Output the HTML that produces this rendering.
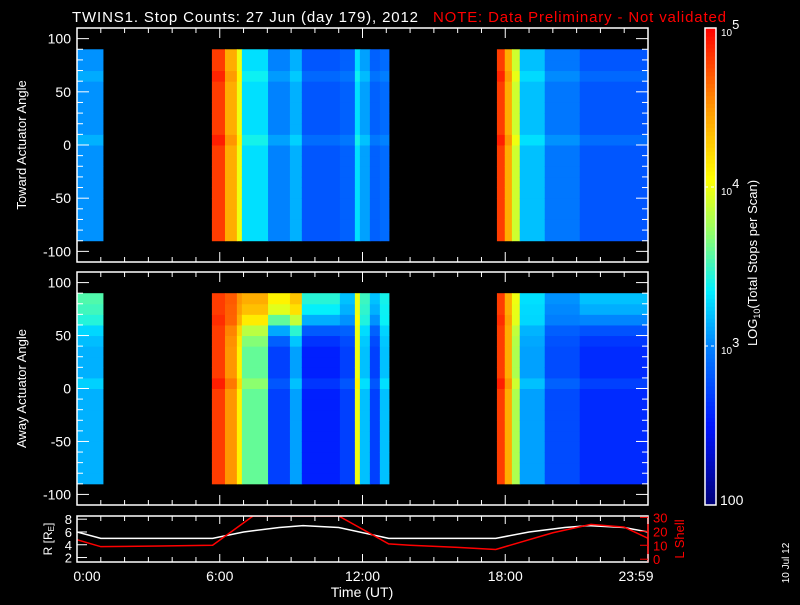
<!DOCTYPE html>
<html><head><meta charset="utf-8"><style>
body{margin:0;background:#000;}
svg text{font-family:"Liberation Sans",sans-serif;}
</style></head><body>
<svg id="chart" width="800" height="600" viewBox="0 0 800 600" xmlns="http://www.w3.org/2000/svg">
<rect width="800" height="600" fill="#000"/>
<g id="g"></g>
</svg>
<script>
const colStarts=[0,1.09,5.67,6.22,6.72,6.93,8.03,8.95,9.45,11.05,11.68,11.89,12.31,12.73,13.11,17.65,17.98,18.28,18.61,19.66,21.13,24];
const topVals=[3.05,null,4.8,4.4,4.0,3.3,3.0,3.15,2.8,2.85,3.3,3.1,2.85,2.9,null,4.8,4.4,3.9,3.2,2.95,2.8];
const botVals=[3.15,null,4.8,4.5,4.1,3.6,2.7,3.1,2.55,2.7,4.0,3.2,2.7,3.2,null,4.8,4.4,3.8,3.1,2.75,2.6];
const botBoost=[0.4,null,0,0.2,0.4,0.8,1.4,1.2,0.9,0.5,0,0.3,0.5,0.2,null,0,0,0.2,0.2,0.3,0.6];
const angBins=[-90,-80,-70,-60,-50,-40,-30,-20,-10,0,10,20,30,40,50,60,70,80,90];
const topAng=[0,0,0,0,0,0,0,0,0,0.1,0,0,0,0,0,0.08,0,0];
const botAng=[0,0,0,0,0,0,0,0,0,0.1,0,0,0,0,0,0.05,0,0];
const botRamp=[0,0,0,0,0,0,0,0,0,0,0,0,0,0.1,0.3,0.6,0.9,1];
const rHours=[0,1,5.7,7,8.5,9.5,11,13.1,17.6,19,20.5,21.5,23,24];
const rVals=[6,5,5,6,6.7,7,6.7,5,5,6,6.7,7,6.7,6];
const lHours=[0,1,3.5,5.7,7.4,11,13.1,14,16,17.6,20,21.6,23,24];
const lVals=[14,9,9.5,10,31,31,11,10,8.5,7,19,25,23,15];
const yTicks=[-100,-50,0,50,100];
const xTickLabels=["0:00","6:00","12:00","18:00","23:59"];
const xTickHours=[0,6,12,18,24];

const NS="http://www.w3.org/2000/svg";const G=document.getElementById('g');
function el(t,a,p){const e=document.createElementNS(NS,t);for(const k in a)e.setAttribute(k,a[k]);(p||G).appendChild(e);return e;}
const X0=77,X1=648;const xs=h=>X0+(X1-X0)*h/24;
const stops=[[2,[0,0,120]],[2.5,[0,20,255]],[3,[0,130,255]],[3.35,[0,240,255]],[3.7,[140,255,110]],[4.05,[255,255,0]],[4.5,[255,150,0]],[5,[255,0,0]]];
function cmap(v){v=Math.max(2,Math.min(5,v));for(let i=1;i<stops.length;i++){if(v<=stops[i][0]){const a=stops[i-1],b=stops[i],t=(v-a[0])/(b[0]-a[0]);return 'rgb('+a[1].map((c,j)=>Math.round(c+(b[1][j]-c)*t)).join(',')+')';}}return 'rgb(255,0,0)';}
const panels=[{y0:28,y1:262,vals:topVals,ang:topAng,boost:null,name:'toward-panel',title:'Toward Actuator Angle'},{y0:272,y1:505,vals:botVals,ang:botAng,boost:botBoost,name:'away-panel',title:'Away Actuator Angle'}];
panels.forEach(P=>{
  const ys=a=>P.y1-(a+110)*(P.y1-P.y0)/220;
  const g=el('g',{});
  
  
  for(let c=0;c<P.vals.length;c++){
    if(P.vals[c]===null)continue;
    for(let b=0;b<angBins.length-1;b++){
      let v=P.vals[c]+P.ang[b]+(P.boost?P.boost[c]*botRamp[b]:0);
      const r=el('rect',{x:xs(colStarts[c]),y:ys(angBins[b+1]),width:xs(colStarts[c+1])-xs(colStarts[c])+0.5,height:ys(angBins[b])-ys(angBins[b+1])+0.5,fill:cmap(v)},g);
      
      
    }
  }
  const fr=el('rect',{x:X0,y:P.y0,width:X1-X0,height:P.y1-P.y0,fill:'none',stroke:'#fff','stroke-width':1.5});
  
  
  for(let a=-110;a<=110;a+=10){const y=ys(a),len=(a%50===0)?12:6;el('line',{x1:X0,x2:X0+len,y1:y,y2:y,stroke:'#fff'});el('line',{x1:X1,x2:X1-len,y1:y,y2:y,stroke:'#fff'});}
  yTicks.forEach(a=>{const t=el('text',{x:X0-6,y:ys(a)+5,fill:'#fff','font-size':14,'text-anchor':'end'});t.textContent=a;
    
    });
  for(let h=0;h<=24;h++){const x=xs(h),len=(h%6===0)?10:5;el('line',{x1:x,x2:x,y1:P.y0,y2:P.y0+len,stroke:'#fff'});el('line',{x1:x,x2:x,y1:P.y1,y2:P.y1-len,stroke:'#fff'});}
  const ym=(P.y0+P.y1)/2;const t=el('text',{x:26,y:ym,fill:'#fff','font-size':13,'text-anchor':'middle',transform:`rotate(-90 26 ${ym})`});t.textContent=P.title;
  
  
});
let t=el('text',{x:72,y:22,fill:'#fff','font-size':15,textLength:346,lengthAdjust:'spacing'});t.textContent='TWINS1. Stop Counts: 27 Jun (day 179), 2012';

t=el('text',{x:433,y:22,fill:'#f00','font-size':15,textLength:293,lengthAdjust:'spacing'});t.textContent='NOTE: Data Preliminary - Not validated';

const CB={x:705,w:11,y0:28,y1:505};const cy=v=>CB.y1-(v-2)*(CB.y1-CB.y0)/3;
for(let i=0;i<120;i++){const v=2+3*i/120;el('rect',{x:CB.x,y:cy(v+3/120),width:CB.w,height:(CB.y1-CB.y0)/120+0.5,fill:cmap(v+1.5/120)});}
const cbf=el('rect',{x:CB.x,y:CB.y0,width:CB.w,height:CB.y1-CB.y0,fill:'none',stroke:'#fff','stroke-width':1.5});

[3,4].forEach(v=>{el('line',{x1:CB.x,x2:CB.x+CB.w,y1:cy(v),y2:cy(v),stroke:'#fff','stroke-dasharray':'3,3'});});
[[5,'5'],[4,'4'],[3,'3']].forEach(([v,e])=>{const tt=el('text',{x:721,y:cy(v)+8,fill:'#fff','font-size':10});tt.innerHTML='10<tspan dy="-7" font-size="13">'+e+'</tspan>';
  });
t=el('text',{x:720,y:505,fill:'#fff','font-size':14});t.textContent='100';

t=el('text',{x:0,y:0,fill:'#fff','font-size':13,'text-anchor':'middle',transform:'translate(757 263) rotate(-90)'});t.innerHTML='LOG<tspan font-size="9" dy="3">10</tspan><tspan dy="-3">(Total Stops per Scan)</tspan>';

const B={y0:516,y1:562};const ry=v=>B.y1-(v-1.3)*(B.y1-B.y0)/7.2;const ly=v=>B.y1-(v+2)*(B.y1-B.y0)/33;
const cp=el('clipPath',{id:'cp'});el('rect',{x:X0,y:B.y0,width:X1-X0,height:B.y1-B.y0},cp);
let pl=el('polyline',{points:rHours.map((h,i)=>xs(h)+','+ry(rVals[i])).join(' '),fill:'none',stroke:'#fff','stroke-width':1.5,'clip-path':'url(#cp)'});

pl=el('polyline',{points:lHours.map((h,i)=>xs(h)+','+ly(lVals[i])).join(' '),fill:'none',stroke:'#f00','stroke-width':1.5,'clip-path':'url(#cp)'});

const bf=el('rect',{x:X0,y:B.y0,width:X1-X0,height:B.y1-B.y0,fill:'none',stroke:'#fff','stroke-width':1.5});

el('line',{x1:X1,x2:X1,y1:B.y0,y2:B.y1,stroke:'#f00','stroke-width':1.5});
for(let h=0;h<=24;h++){const x=xs(h),len=(h%6===0)?8:5;el('line',{x1:x,x2:x,y1:B.y0,y2:B.y0+len,stroke:'#fff'});el('line',{x1:x,x2:x,y1:B.y1,y2:B.y1-len,stroke:'#fff'});}
[2,4,6,8].forEach(v=>{el('line',{x1:X0,x2:X0+10,y1:ry(v),y2:ry(v),stroke:'#fff'});const tt=el('text',{x:X0-5,y:ry(v)+5,fill:'#fff','font-size':13,'text-anchor':'end'});tt.textContent=v;
  });
[0,10,20,30].forEach(v=>{el('line',{x1:X1,x2:X1-8,y1:ly(v),y2:ly(v),stroke:'#f00'});const tt=el('text',{x:X1+5,y:ly(v)+5,fill:'#f00','font-size':13});tt.textContent=v;
  });
t=el('text',{x:0,y:0,fill:'#fff','font-size':12,'text-anchor':'middle',transform:'translate(52 539) rotate(-90)'});t.innerHTML='R [R<tspan font-size="8" dy="2">E</tspan><tspan dy="-2">]</tspan>';

t=el('text',{x:0,y:0,fill:'#f00','font-size':13,'text-anchor':'middle',transform:'translate(684 539) rotate(-90)'});t.textContent='L Shell';

xTickHours.forEach((h,i)=>{const tt=el('text',{x:xs(h)+(i===0?10:i===4?-12:0),y:581,fill:'#fff','font-size':14,'text-anchor':'middle'});tt.textContent=xTickLabels[i];
  });
t=el('text',{x:362,y:597,fill:'#fff','font-size':14,'text-anchor':'middle'});t.textContent='Time (UT)';

t=el('text',{x:0,y:0,fill:'#fff','font-size':10,'text-anchor':'middle',transform:'translate(789 563) rotate(-90)'});t.textContent='10 Jul 12';

</script>
</body></html>
